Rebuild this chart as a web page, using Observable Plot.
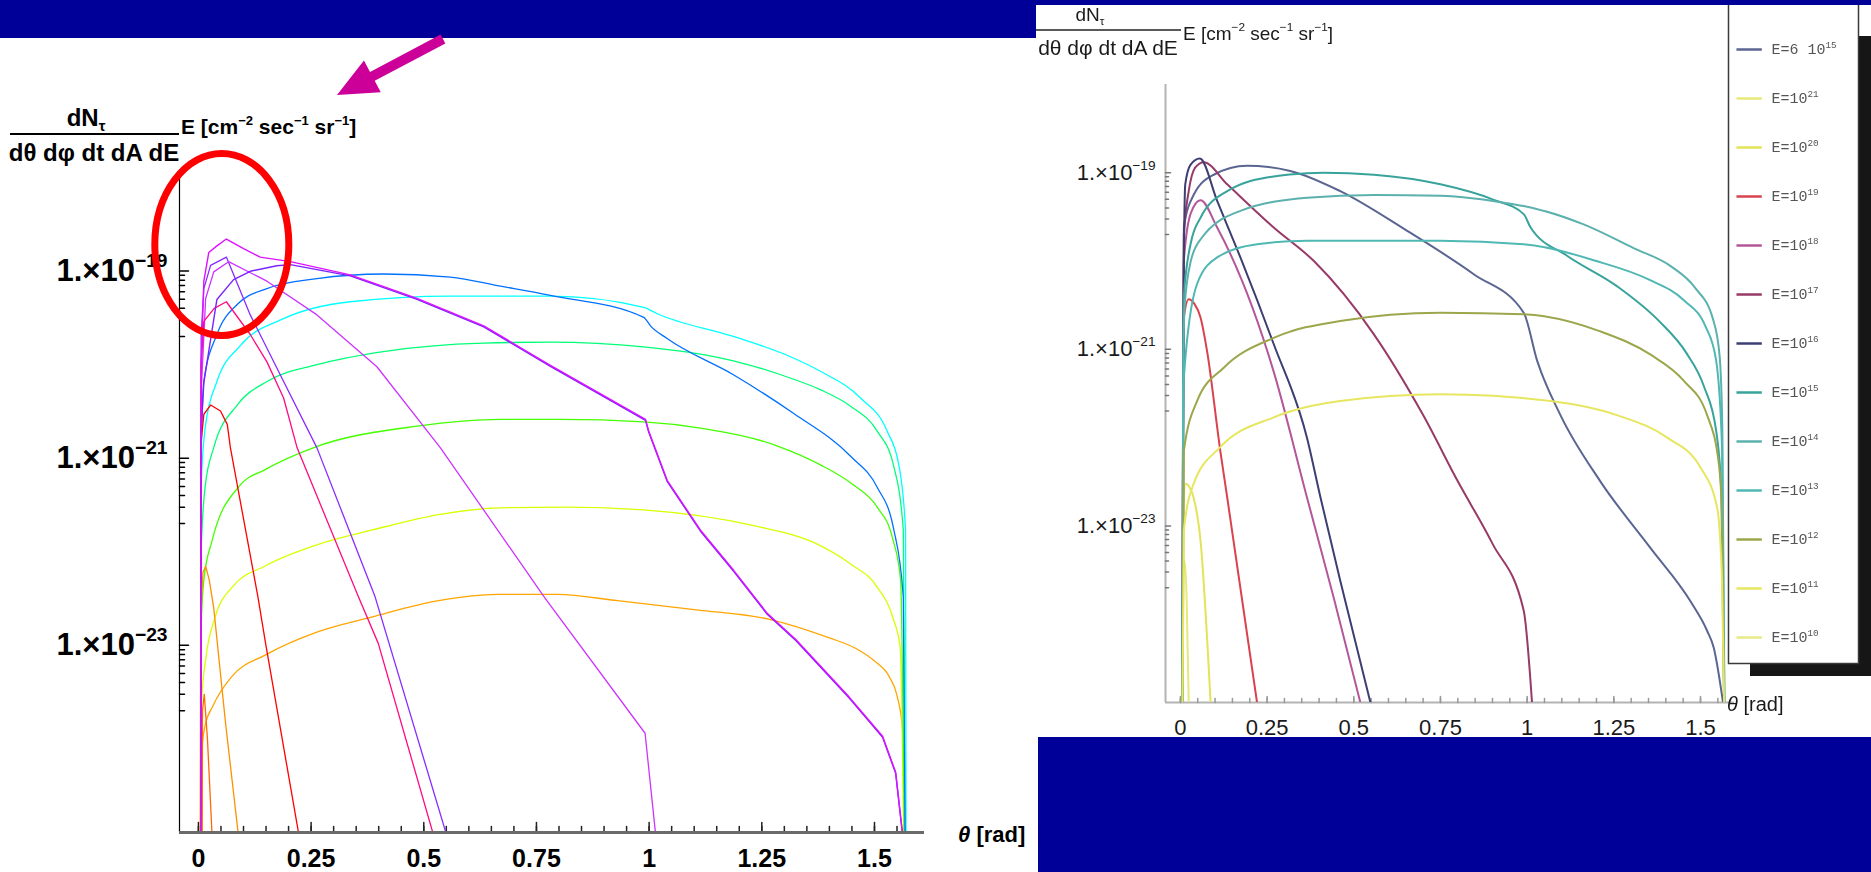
<!DOCTYPE html>
<html>
<head>
<meta charset="utf-8">
<script src="https://cdn.jsdelivr.net/npm/d3@7"></script>
<script src="https://cdn.jsdelivr.net/npm/@observablehq/plot@0.6"></script>
<style>
  html, body { margin: 0; padding: 0; background: #fff; }
  #page { position: relative; width: 1871px; height: 872px; overflow: hidden; background: #fff; }
  #page > * { position: absolute; }
</style>
</head>
<body>
<div id="page"></div>
<script>
// ---------- Tau flux vs nadir angle: left panel (coloured curves) ----------
// each curve: [theta (rad), dN/(dθ dφ dt dA dE)·E  (cm^-2 s^-1 sr^-1)]
const leftE10 = [[0.008,1e-25],[0.009,9e-25],[0.015,1.4e-24],[0.031,2.2e-24],[0.075,4.7e-24],[0.149,7.9e-24],[0.266,1.4e-23],[0.384,2.0e-23],[0.533,3.0e-23],[0.663,3.5e-23],[0.797,3.5e-23],[0.930,3.0e-23],[1.105,2.4e-23],[1.267,1.9e-23],[1.400,1.2e-23],[1.460,9.2e-24],[1.500,6.8e-24],[1.533,4.6e-24],[1.550,2.9e-24],[1.562,1.3e-24],[1.566,1e-25]];
const leftE11 = [[0.006,1e-25],[0.007,2.5e-24],[0.017,7.6e-24],[0.037,2.0e-23],[0.075,4.2e-23],[0.149,7.1e-23],[0.266,1.2e-22],[0.384,1.7e-22],[0.533,2.5e-22],[0.670,2.95e-22],[0.818,3.0e-22],[0.988,2.8e-22],[1.232,1.9e-22],[1.365,1.26e-22],[1.447,7.4e-23],[1.506,4.2e-23],[1.542,1.9e-23],[1.557,9.5e-24],[1.565,1e-25]];
const leftE12 = [[0.005,1e-25],[0.006,1.5e-23],[0.012,5e-23],[0.030,1.3e-22],[0.090,5e-22],[0.149,7.6e-22],[0.256,1.3e-21],[0.485,2.2e-21],[0.670,2.6e-21],[0.803,2.6e-21],[0.988,2.45e-21],[1.114,2.1e-21],[1.285,1.35e-21],[1.380,8.5e-22],[1.453,5.2e-22],[1.506,3.0e-22],[1.540,1.4e-22],[1.558,5e-23],[1.566,1e-25]];
const leftE13 = [[0.005,1e-25],[0.006,1e-22],[0.015,5e-22],[0.034,1.3e-21],[0.086,3.7e-21],[0.152,6.6e-21],[0.263,1.0e-20],[0.410,1.38e-20],[0.632,1.7e-20],[0.781,1.74e-20],[0.988,1.55e-20],[1.187,1.1e-20],[1.313,7.2e-21],[1.380,5.4e-21],[1.447,3.6e-21],[1.506,1.95e-21],[1.542,8.5e-22],[1.564,1.7e-22],[1.568,1e-25]];
const leftE14 = [[0.005,1e-25],[0.006,5e-22],[0.016,2.3e-21],[0.041,6.6e-21],[0.093,1.6e-20],[0.189,3.1e-20],[0.337,4.7e-20],[0.559,5.4e-20],[0.781,5.4e-20],[0.988,4.1e-20],[1.018,3.5e-20],[1.187,2.0e-20],[1.306,1.26e-20],[1.380,8.5e-21],[1.469,4.4e-21],[1.528,1.95e-21],[1.554,8.5e-22],[1.569,1.7e-22],[1.570,1e-25]];
const leftE15 = [[0.005,1e-25],[0.006,1e-21],[0.012,6.6e-21],[0.041,2.1e-20],[0.086,4.4e-20],[0.152,6.5e-20],[0.263,8.3e-20],[0.410,9.3e-20],[0.559,8.6e-20],[0.670,6.9e-20],[0.781,5.5e-20],[0.988,3.2e-20],[1.003,2.6e-20],[1.040,1.9e-20],[1.187,7.8e-21],[1.321,3.0e-21],[1.447,1.05e-21],[1.506,4.9e-22],[1.542,1.8e-22],[1.564,3.3e-23],[1.568,1e-25]];
const leftRise = [[0.005,1e-25],[0.006,2e-21],[0.012,6.6e-21],[0.041,5.1e-20],[0.078,8.3e-20],[0.115,1.02e-19],[0.174,1.17e-19],[0.204,1.2e-19],[0.337,9.1e-20],[0.485,5.1e-20],[0.633,2.6e-20],[0.781,9.8e-21],[0.992,2.6e-21],[0.999,1.95e-21],[1.040,5.8e-22],[1.114,1.7e-22],[1.188,6.3e-23],[1.262,2.2e-23],[1.326,1.15e-23],[1.444,2.8e-24],[1.518,1.07e-24],[1.547,4.4e-25],[1.562,1e-25]];
const leftPeak = [[0.005,1e-25],[0.006,1e-20],[0.012,7.8e-20],[0.023,1.58e-19],[0.041,1.86e-19],[0.062,2.2e-19],[0.100,1.74e-19],[0.137,1.41e-19],[0.204,1.26e-19],[0.337,9.1e-20],[0.485,5.1e-20],[0.633,2.6e-20],[0.781,9.8e-21],[0.992,2.6e-21],[0.999,1.95e-21],[1.040,5.8e-22],[1.114,1.7e-22],[1.188,6.3e-23],[1.262,2.2e-23],[1.326,1.15e-23],[1.444,2.8e-24],[1.518,1.07e-24],[1.547,4.4e-25],[1.562,1e-25]];
const leftE16 = [[0.005,1e-25],[0.006,2e-20],[0.012,6.5e-20],[0.027,1.15e-19],[0.062,1.41e-19],[0.115,3.4e-20],[0.189,6.6e-21],[0.263,1.29e-21],[0.392,3.3e-23],[0.549,1e-25]];
const leftE17 = [[0.005,1e-25],[0.006,5e-21],[0.016,5.1e-20],[0.034,9.8e-20],[0.067,1.26e-19],[0.152,7.8e-20],[0.263,3.4e-20],[0.396,9.5e-21],[0.537,1.29e-21],[0.767,3.3e-23],[0.991,1.15e-24],[1.014,1e-25]];
const leftE18 = [[0.005,1e-25],[0.006,1e-20],[0.012,2.9e-20],[0.035,4e-20],[0.062,4.7e-20],[0.115,2.1e-20],[0.152,1.07e-20],[0.189,4.4e-21],[0.219,1.29e-21],[0.355,3.3e-23],[0.399,1.05e-23],[0.520,1e-25]];
const leftE19 = [[0.005,1e-25],[0.006,1.5e-21],[0.012,2.95e-21],[0.027,3.7e-21],[0.049,3.2e-21],[0.064,2.3e-21],[0.071,1.29e-21],[0.132,3.3e-23],[0.149,1.05e-23],[0.222,1e-25]];
const leftE20 = [[0.004,1e-25],[0.005,2e-23],[0.010,6e-23],[0.016,7e-23],[0.024,5e-23],[0.034,2.5e-23],[0.060,1.5e-24],[0.088,1e-25]];
const leftE21 = [[0.008,1e-25],[0.009,2e-24],[0.013,3e-24],[0.020,1e-24],[0.030,1e-25]];

const leftNames  = ["E10","E11","E12","E13","E14","E15","rise","E16","E17","E18","E19","E20","E21","peak"];
const leftCurves = [leftE10,leftE11,leftE12,leftE13,leftE14,leftE15,leftRise,leftE16,leftE17,leftE18,leftE19,leftE20,leftE21,leftPeak];
const leftColors = ["#ffa500","#d8ff00","#44ff00","#00ff77","#00ffff","#0070ff","#7a22ff","#8a2cff","#cc33ff","#ff0a80","#ff0000","#ff9000","#ff6a00","#dd11ff"];
const leftSmooth = ["E10","E11","E12","E13","E14","E15"];

// ---------- right panel (legend-labelled curves) ----------
const rightE6e15 = [[0.006,1e-25],[0.008,1e-21],[0.010,2.4e-20],[0.038,5.6e-20],[0.096,9.5e-20],[0.192,1.2e-19],[0.317,1.05e-19],[0.461,6.2e-20],[0.654,2.2e-20],[0.846,7.1e-21],[0.990,2.6e-21],[1.029,7.4e-22],[1.096,1.8e-22],[1.211,3.2e-23],[1.356,5.6e-24],[1.471,1.4e-24],[1.519,6.5e-25],[1.538,4.2e-25],[1.565,1e-25]];
const rightE21 = [[0.007,1e-25],[0.008,2.5e-24],[0.012,4e-24],[0.018,1.5e-24],[0.024,1e-25]];
const rightE20 = [[0.006,1e-25],[0.008,1e-23],[0.015,3e-23],[0.025,2.8e-23],[0.038,2.1e-23],[0.058,6.8e-24],[0.087,1e-25]];
const rightE19 = [[0.006,1e-25],[0.008,1e-21],[0.010,2.3e-21],[0.024,3.7e-21],[0.040,3.3e-21],[0.058,2.3e-21],[0.077,9.5e-22],[0.115,7.1e-23],[0.135,2.1e-23],[0.221,1e-25]];
const rightE18 = [[0.006,1e-25],[0.008,1e-21],[0.010,1e-20],[0.030,3.5e-20],[0.058,4.9e-20],[0.106,2.4e-20],[0.269,5.6e-22],[0.365,2.1e-23],[0.442,1.55e-24],[0.519,1e-25]];
const rightE17 = [[0.006,1e-25],[0.008,1e-21],[0.010,2.0e-20],[0.024,6.2e-20],[0.043,1.15e-19],[0.067,1.32e-19],[0.135,7.4e-20],[0.269,2.4e-20],[0.385,1.0e-20],[0.558,1.48e-21],[0.700,1.8e-22],[0.800,3.2e-23],[0.900,6.3e-24],[0.990,1.1e-24],[1.014,1e-25]];
const rightE16 = [[0.006,1e-25],[0.008,3.4e-23],[0.010,1e-20],[0.014,7.4e-20],[0.029,1.23e-19],[0.056,1.45e-19],[0.106,4.8e-20],[0.173,1.1e-20],[0.269,1.15e-21],[0.365,1e-22],[0.404,2.1e-23],[0.461,2.4e-24],[0.548,1e-25]];
const rightE15 = [[0.006,1e-25],[0.008,1e-21],[0.010,4e-21],[0.030,1.6e-20],[0.058,3.1e-20],[0.135,6.2e-20],[0.269,9.1e-20],[0.413,1.0e-19],[0.558,9.5e-20],[0.750,7.4e-20],[0.900,5.0e-20],[0.990,3.4e-20],[1.010,2.4e-20],[1.115,1.15e-20],[1.259,5.2e-21],[1.380,2.1e-21],[1.460,9.0e-22],[1.510,3.8e-22],[1.545,1.2e-22],[1.560,2.5e-23],[1.568,1e-25]];
const rightE14 = [[0.006,1e-25],[0.008,5e-22],[0.012,3e-21],[0.030,1e-20],[0.060,1.8e-20],[0.173,3.7e-20],[0.365,5.2e-20],[0.558,5.6e-20],[0.750,5.5e-20],[0.961,4.4e-20],[0.990,4.2e-20],[1.163,2.6e-20],[1.307,1.4e-20],[1.415,8.7e-21],[1.484,5.0e-21],[1.536,2.2e-21],[1.555,8.5e-22],[1.563,1.2e-22],[1.569,1e-25]];
const rightE13 = [[0.006,1e-25],[0.008,1e-22],[0.010,4.8e-22],[0.048,5.5e-21],[0.106,1.1e-20],[0.221,1.55e-20],[0.365,1.7e-20],[0.558,1.7e-20],[0.750,1.7e-20],[0.990,1.55e-20],[1.200,1.0e-20],[1.350,6.2e-21],[1.452,3.6e-21],[1.515,1.8e-21],[1.545,7.5e-22],[1.562,7.8e-23],[1.569,1e-25]];
const rightE12 = [[0.006,1e-25],[0.010,7.1e-23],[0.048,2.6e-22],[0.125,6.2e-22],[0.269,1.35e-21],[0.461,2.1e-21],[0.750,2.6e-21],[0.990,2.5e-21],[1.211,1.6e-21],[1.356,8.7e-22],[1.452,4.4e-22],[1.519,1.8e-22],[1.553,5e-23],[1.562,1.35e-23],[1.568,1e-25]];
const rightE11 = [[0.006,1e-25],[0.010,8.9e-24],[0.038,3e-23],[0.115,7.8e-23],[0.269,1.7e-22],[0.461,2.6e-22],[0.750,3.1e-22],[1.067,2.6e-22],[1.259,1.8e-22],[1.404,1e-22],[1.500,4.6e-23],[1.548,1.6e-23],[1.562,2.4e-24],[1.568,1e-25]];
const rightE10 = [];

const rightNames  = ["E=6 10^{15}","E=10^{21}","E=10^{20}","E=10^{19}","E=10^{18}","E=10^{17}","E=10^{16}","E=10^{15}","E=10^{14}","E=10^{13}","E=10^{12}","E=10^{11}","E=10^{10}"];
const rightCurves = [rightE6e15,rightE21,rightE20,rightE19,rightE18,rightE17,rightE16,rightE15,rightE14,rightE13,rightE12,rightE11,rightE10];
const rightColors = ["#5b6592","#e8e87a","#e3e35a","#d9434d","#b4579a","#983a68","#3d3e72","#38a39b","#5bb1ad","#50b8b3","#9ca64b","#e6e660","#e9e987"];

// axis ticks
const thetaTicks = [0, 0.25, 0.5, 0.75, 1, 1.25, 1.5];
const thetaMinor = d3.range(0, 1.56, 0.05).map(v => +v.toFixed(2));
const fluxTicks  = [1e-19, 1e-21, 1e-23];
const fluxMinor  = [-20, -22, -24].flatMap(k => [2,3,4,5,6,7,8,9].map(m => m * 10 ** k));

// ---------- helpers ----------
const page = document.getElementById("page");
function place(el, left, top) { el.style.position = "absolute"; el.style.left = left + "px"; el.style.top = top + "px"; page.appendChild(el); return el; }
function box(left, top, w, h, color) { const d = document.createElement("div"); d.style.width = w + "px"; d.style.height = h + "px"; d.style.background = color; return place(d, left, top); }

// "a^{b}" -> superscript, "a_{b}" -> subscript, rendered as tspans
function richText(el, str) {
  const parts = []; const re = /([\^_])\{([^}]*)\}/g; let last = 0, m;
  while ((m = re.exec(str))) {
    if (m.index > last) parts.push({t: str.slice(last, m.index), k: ""});
    parts.push({t: m[2], k: m[1]}); last = re.lastIndex;
  }
  if (last < str.length) parts.push({t: str.slice(last), k: ""});
  el.textContent = ""; let shift = 0;
  for (const p of parts) {
    const ts = document.createElementNS("http://www.w3.org/2000/svg", "tspan");
    const target = p.k === "^" ? -0.45 : p.k === "_" ? 0.22 : 0;
    const size = p.k ? 0.62 : 1;
    if (target !== shift) ts.setAttribute("dy", ((target - shift) / size).toFixed(3) + "em");
    if (p.k) ts.setAttribute("font-size", "62%");
    ts.textContent = p.t; el.appendChild(ts); shift = target;
  }
}
function richify(svg) { svg.querySelectorAll("text").forEach(t => { const s = t.textContent; if (/[\^_]\{/.test(s)) richText(t, s); }); }
function addText(sel, x, y, str, attrs = {}) {
  const t = sel.append("text").attr("x", x).attr("y", y).attr("text-anchor", "start");
  for (const k in attrs) t.attr(k, attrs[k]);
  richText(t.node(), str); return t;
}
function thetaLabel(sel, x, y, size) {
  const t = sel.append("text").attr("x", x).attr("y", y).attr("font-size", size).attr("text-anchor", "start");
  t.append("tspan").attr("font-style", "italic").text("θ");
  t.append("tspan").text(" [rad]");
}
const tickShape = {draw(ctx, l) { ctx.moveTo(0, 0); ctx.lineTo(0, -l); }};
const expLabel = d => "1.×10^{−" + Math.abs(Math.round(Math.log10(d))) + "}";
const toRows = (names, curves, colors) => names.flatMap((name, i) => curves[i].map(([theta, flux]) => ({name, theta, flux, color: colors[i]})));

// ---------- left panel ----------
const LX = [-0.042, 1.611], FY = [1e-25, 1e-18];
const leftRows = toRows(leftNames, leftCurves, leftColors);
const isSmooth = d => leftSmooth.includes(d.name);
const leftPlot = Plot.plot({
  width: 1036, height: 872,
  marginLeft: 179, marginRight: 112, marginTop: 177, marginBottom: 40,
  x: {domain: LX}, y: {type: "log", domain: FY},
  style: {fontFamily: "'Liberation Sans', Arial, sans-serif", fontSize: "25px", fontWeight: "bold", color: "#000", background: "white", overflow: "visible"},
  marks: [
    Plot.ruleX([LX[0]], {stroke: "#000", strokeWidth: 1.2}),
    Plot.vector(thetaMinor, {x: d => d, y: FY[0], length: 6, anchor: "start", shape: tickShape, stroke: "#222"}),
    Plot.vector(thetaTicks, {x: d => d, y: FY[0], length: 10, anchor: "start", shape: tickShape, stroke: "#222"}),
    Plot.vector(fluxMinor, {x: LX[0], y: d => d, length: 5, rotate: 90, anchor: "start", shape: tickShape, stroke: "#000"}),
    Plot.vector(fluxTicks, {x: LX[0], y: d => d, length: 9, rotate: 90, anchor: "start", shape: tickShape, stroke: "#000"}),
    Plot.line(leftRows.filter(isSmooth), {x: "theta", y: "flux", z: "name", stroke: "color", strokeWidth: 1.3, curve: "monotone-x", clip: true}),
    Plot.line(leftRows.filter(d => !isSmooth(d) && d.name !== "rise" && d.name !== "peak"), {x: "theta", y: "flux", z: "name", stroke: "color", strokeWidth: 1.3, clip: true}),
    Plot.line(leftRows.filter(d => d.name === "rise"), {x: "theta", y: "flux", stroke: "color", strokeWidth: 1.4, dy: 1, clip: true}),
    Plot.line(leftRows.filter(d => d.name === "peak"), {x: "theta", y: "flux", stroke: "color", strokeWidth: 1.4, clip: true}),
    Plot.ruleY([FY[0]], {stroke: "#6a6a6a", strokeWidth: 3}),
    Plot.axisX(thetaTicks, {tickSize: 0, tickPadding: 17, tickFormat: d => String(d), label: null}),
    Plot.axisY(fluxTicks, {tickSize: 0, tickPadding: 12, tickFormat: expLabel, label: null, fontSize: 31})
  ]
});
richify(leftPlot);
place(leftPlot, 0, 0);
{
  const s = d3.select(leftPlot);
  const g = s.append("g").attr("font-family", "'Liberation Sans', Arial, sans-serif").attr("font-weight", "bold").attr("font-size", 24).attr("fill", "#000");
  addText(g, 86, 126, "dN_{τ}", {"text-anchor": "middle"});
  g.append("line").attr("x1", 10).attr("x2", 179).attr("y1", 134).attr("y2", 134).attr("stroke", "#000").attr("stroke-width", 2);
  addText(g, 94, 161, "dθ dφ dt dA dE", {"text-anchor": "middle"});
  addText(g, 181, 134, "E [cm^{−2} sec^{−1} sr^{−1}]", {"font-size": 21});
  thetaLabel(g, 958, 842, 22);
  // highlight ring around the low-angle peaks
  const sx = leftPlot.scale("x"), sy = leftPlot.scale("y");
  s.append("ellipse").attr("cx", sx.apply(0.053)).attr("cy", sy.apply(1.9e-19)).attr("rx", 67).attr("ry", 91)
    .attr("fill", "none").attr("stroke", "#ff0000").attr("stroke-width", 7);
}

// ---------- right panel ----------
const RX = [-0.043, 1.598];
const rightRows = toRows(rightNames, rightCurves, rightColors);
const right = document.createElement("div");
right.style.width = "835px"; right.style.height = "872px"; right.style.filter = "blur(0.5px)";
place(right, 1036, 0);
const rightPlot = Plot.plot({
  width: 835, height: 760,
  marginLeft: 129, marginRight: 137, marginTop: 84, marginBottom: 58,
  x: {domain: RX}, y: {type: "log", domain: FY},
  style: {fontFamily: "'Liberation Sans', Arial, sans-serif", fontSize: "22px", color: "#1a1a1a", background: "white", overflow: "visible"},
  marks: [
    Plot.ruleX([RX[0]], {stroke: "#b4b4b4", strokeWidth: 2}),
    Plot.ruleY([FY[0]], {stroke: "#b4b4b4", strokeWidth: 2}),
    Plot.vector(thetaMinor, {x: d => d, y: FY[0], length: 4, anchor: "start", shape: tickShape, stroke: "#999"}),
    Plot.vector(thetaTicks, {x: d => d, y: FY[0], length: 6, anchor: "start", shape: tickShape, stroke: "#999"}),
    Plot.vector(fluxMinor, {x: RX[0], y: d => d, length: 3, rotate: 90, anchor: "start", shape: tickShape, stroke: "#777"}),
    Plot.vector(fluxTicks, {x: RX[0], y: d => d, length: 5, rotate: 90, anchor: "start", shape: tickShape, stroke: "#777"}),
    Plot.line(rightRows, {x: "theta", y: "flux", z: "name", stroke: "color", strokeWidth: 2, curve: "monotone-x", clip: true}),
    Plot.axisX(thetaTicks, {tickSize: 0, tickPadding: 17, tickFormat: d => String(d), label: null, fontFamily: "'Liberation Sans Narrow', 'Liberation Sans', Arial, sans-serif"}),
    Plot.axisY(fluxTicks, {tickSize: 0, tickPadding: 10, tickFormat: expLabel, label: null})
  ]
});
richify(rightPlot);
rightPlot.style.position = "absolute"; rightPlot.style.left = "0px"; rightPlot.style.top = "0px";
right.appendChild(rightPlot);
{
  const g = d3.select(rightPlot).append("g").attr("font-family", "'Liberation Sans', Arial, sans-serif").attr("font-size", 19).attr("fill", "#1a1a1a");
  addText(g, 54, 21, "dN_{τ}", {"text-anchor": "middle"});
  g.append("line").attr("x1", 0).attr("x2", 145).attr("y1", 30).attr("y2", 30).attr("stroke", "#222").attr("stroke-width", 1.5);
  addText(g, 72, 55, "dθ dφ dt dA dE", {"text-anchor": "middle", "font-size": 21});
  addText(g, 147, 40, "E [cm^{−2} sec^{−1} sr^{−1}]");
  thetaLabel(g, 691, 711, 20);
}
// legend with its drop shadow
const shadow = document.createElement("div");
shadow.style.cssText = "position:absolute;left:714px;top:36px;width:121px;height:640px;background:#161616;";
right.appendChild(shadow);
const legendPlot = Plot.plot({
  width: 130, height: 660, margin: 0,
  x: {domain: [0, 1], axis: null},
  y: {type: "point", domain: rightNames, range: [41, 638], padding: 0, axis: null},
  style: {fontFamily: "'Liberation Mono', 'DejaVu Sans Mono', monospace", fontSize: "15px", background: "transparent", overflow: "visible"},
  marks: [
    Plot.frame({fill: "white", stroke: "#3a3a3a", strokeWidth: 1.5}),
    Plot.ruleY(rightNames, {y: d => d, x1: 0.065, x2: 0.26, stroke: (d, i) => rightColors[i], strokeWidth: 2.5}),
    Plot.text(rightNames, {y: d => d, x: 0.33, text: d => d, textAnchor: "start", fill: "#555"})
  ]
});
richify(legendPlot);
legendPlot.style.position = "absolute"; legendPlot.style.left = "692px"; legendPlot.style.top = "3px";
right.appendChild(legendPlot);

// ---------- slide frame ----------
box(0, 0, 1036, 38, "#000099");
box(1036, 0, 835, 5, "#000099");
box(1038, 737, 833, 135, "#000099");

// pointer arrow towards the flux label
{
  const svg = d3.create("svg").attr("width", 1871).attr("height", 872).style("pointer-events", "none");
  const tail = [443, 39], tip = [337, 95];
  const dx = tip[0] - tail[0], dy = tip[1] - tail[1], len = Math.hypot(dx, dy);
  const ux = dx / len, uy = dy / len, nx = -uy, ny = ux;
  const hw = 5, hl = 40, hh = 18;
  const bx = tip[0] - ux * hl, by = tip[1] - uy * hl;
  const pts = [
    [tail[0] + nx * hw, tail[1] + ny * hw], [bx + nx * hw, by + ny * hw], [bx + nx * hh, by + ny * hh],
    tip, [bx - nx * hh, by - ny * hh], [bx - nx * hw, by - ny * hw], [tail[0] - nx * hw, tail[1] - ny * hw]
  ];
  svg.append("polygon").attr("points", pts.map(p => p.join(",")).join(" ")).attr("fill", "#cc0099");
  place(svg.node(), 0, 0);
}
</script>
</body>
</html>
